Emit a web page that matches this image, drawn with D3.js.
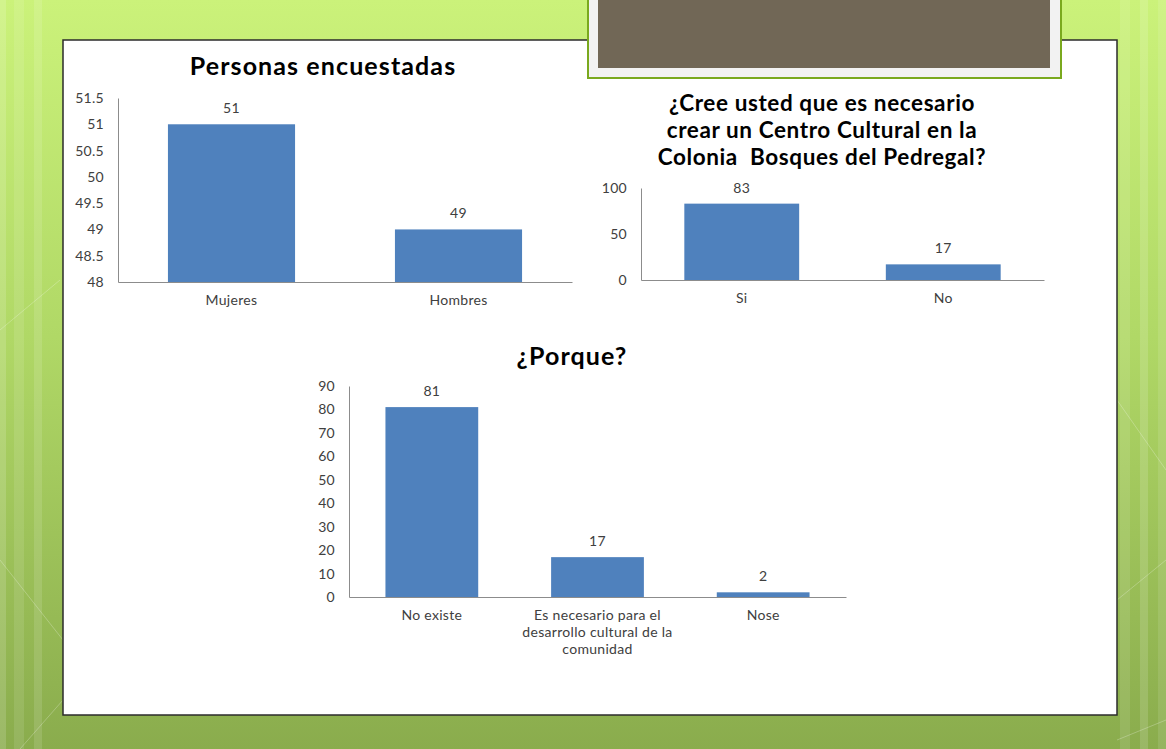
<!DOCTYPE html>
<html>
<head>
<meta charset="utf-8">
<script src="https://cdn.jsdelivr.net/npm/d3@7"></script>
<style>
body { margin:0; background:#fff; }
svg { display:block; }
.axis path, .axis line { stroke:#8c8c8c; }
.axis text { font-family:Lato, sans-serif; font-size:14px; letter-spacing:0.3px; fill:#404040; }
</style>
</head>
<body>
<script>
// chart data
var sexCategories = ['Mujeres', 'Hombres']
var sexValues = [51, 49]
var sexTicks = [48, 48.5, 49, 49.5, 50, 50.5, 51, 51.5]

var needCategories = ['Si', 'No']
var needValues = [83, 17]
var needTicks = [0, 50, 100]

var whyCategories = ['No existe', 'Es necesario para el desarrollo cultural de la comunidad', 'Nose']
var whyLines = [['No existe'], ['Es necesario para el', 'desarrollo cultural de la', 'comunidad'], ['Nose']]
var whyValues = [81, 17, 2]
var whyTicks = [0, 10, 20, 30, 40, 50, 60, 70, 80, 90]

var width = 1166
var height = 749
var barColor = '#4f81bd'

var svg = d3.select('body').append('svg')
    .attr('width', width)
    .attr('height', height)

// background gradient
var defs = svg.append('defs')
var grad = defs.append('linearGradient')
    .attr('id', 'bg')
    .attr('x1', 0).attr('y1', 0).attr('x2', 0).attr('y2', 1)
grad.append('stop').attr('offset', '0%').attr('stop-color', '#cbf27a')
grad.append('stop').attr('offset', '45%').attr('stop-color', '#b0d866')
grad.append('stop').attr('offset', '100%').attr('stop-color', '#8aac4d')

svg.append('rect')
    .attr('width', width)
    .attr('height', height)
    .attr('fill', 'url(#bg)')

// faint vertical stripes on the edges
var stripes = [[0, 6, 0.15], [14, 10, 0.1], [34, 8, 0.12], [1120, 10, 0.1], [1140, 8, 0.14], [1158, 8, 0.1]]
svg.selectAll('.stripe').data(stripes).enter().append('rect')
    .attr('x', function(d){ return d[0] })
    .attr('width', function(d){ return d[1] })
    .attr('y', 0)
    .attr('height', height)
    .attr('fill', '#fff')
    .attr('opacity', function(d){ return d[2] })

// faint diagonal lines
var diag = [[0, 330, 60, 280], [0, 560, 63, 640], [20, 749, 63, 700], [1117, 600, 1166, 560], [1117, 740, 1166, 720], [1117, 400, 1166, 470]]
svg.selectAll('.diag').data(diag).enter().append('line')
    .attr('x1', function(d){ return d[0] }).attr('y1', function(d){ return d[1] })
    .attr('x2', function(d){ return d[2] }).attr('y2', function(d){ return d[3] })
    .attr('stroke', '#fff').attr('stroke-opacity', 0.25)

// white panel
svg.append('rect')
    .attr('x', 63).attr('y', 40)
    .attr('width', 1054).attr('height', 675)
    .attr('fill', '#fff')
    .attr('stroke', '#2b2b2b')
    .attr('stroke-width', 1.5)

// title box at the top
svg.append('rect')
    .attr('x', 588).attr('y', -5)
    .attr('width', 473).attr('height', 83)
    .attr('fill', '#f2f2f2')
    .attr('stroke', '#7aa91e')
    .attr('stroke-width', 2)
svg.append('rect')
    .attr('x', 598).attr('y', 0)
    .attr('width', 452).attr('height', 68)
    .attr('fill', '#716756')

function drawChart(opt){
    var g = svg.append('g')
    var x = d3.scaleBand()
        .domain(opt.categories)
        .range([opt.left, opt.right])
        .paddingInner(opt.pad)
        .paddingOuter(opt.pad / 2)
    var y = d3.scaleLinear()
        .domain(opt.domain)
        .range([opt.bottom, opt.top])

    g.append('g')
        .attr('class', 'axis')
        .attr('transform', 'translate(' + opt.left + ',0)')
        .call(d3.axisLeft(y).tickValues(opt.ticks).tickSize(0).tickPadding(14).tickFormat(function(d){ return d }))
    g.append('g')
        .attr('class', 'axis')
        .attr('transform', 'translate(0,' + opt.bottom + ')')
        .call(d3.axisBottom(x).tickSize(0).tickSizeOuter(0).tickFormat(''))

    g.selectAll('.bar').data(opt.values).enter().append('rect')
        .attr('x', function(d, i){ return x(opt.categories[i]) })
        .attr('y', function(d){ return y(d) })
        .attr('width', x.bandwidth())
        .attr('height', function(d){ return opt.bottom - y(d) })
        .attr('fill', barColor)

    g.selectAll('.val').data(opt.values).enter().append('text')
        .attr('x', function(d, i){ return x(opt.categories[i]) + x.bandwidth() / 2 })
        .attr('y', function(d){ return y(d) - 11 })
        .attr('text-anchor', 'middle')
        .style('font-family', 'Lato, sans-serif')
        .style('font-size', '14px')
        .style('letter-spacing', '0.3px')
        .attr('fill', '#404040')
        .text(function(d){ return d })

    // category labels, possibly wrapped
    opt.lines.forEach(function(lines, i){
        var t = g.append('text')
            .attr('text-anchor', 'middle')
            .style('font-family', 'Lato, sans-serif')
            .style('font-size', '14px')
            .style('letter-spacing', '0.3px')
            .attr('fill', '#404040')
        lines.forEach(function(line, j){
            t.append('tspan')
                .attr('x', x(opt.categories[i]) + x.bandwidth() / 2)
                .attr('y', opt.bottom + 23 + j * 17)
                .text(line)
        })
    })

    var title = g.append('text')
        .attr('text-anchor', 'middle')
        .style('font-family', 'Lato, sans-serif')
        .style('font-weight', 'bold')
        .style('font-size', opt.titleSize + 'px')
        .style('letter-spacing', opt.spacing + 'px')
        .style('white-space', 'pre')
        .attr('fill', '#000')
    opt.title.forEach(function(line, j){
        title.append('tspan')
            .attr('x', opt.titleX)
            .attr('y', opt.titleY + j * 27)
            .text(line)
    })
}

drawChart({
    categories: sexCategories, lines: sexCategories.map(function(c){ return [c] }),
    values: sexValues, ticks: sexTicks, domain: [48, 51.5],
    left: 118, right: 572, top: 98, bottom: 282, pad: 0.44,
    title: ['Personas encuestadas'], titleX: 323, titleY: 75, titleSize: 25, spacing: 1.1
})

drawChart({
    categories: needCategories, lines: needCategories.map(function(c){ return [c] }),
    values: needValues, ticks: needTicks, domain: [0, 100],
    left: 641, right: 1044, top: 188, bottom: 280, pad: 0.43,
    title: ['¿Cree usted que es necesario', 'crear un Centro Cultural en la', 'Colonia  Bosques del Pedregal?'],
    titleX: 822, titleY: 111, titleSize: 22.5, spacing: 0.6
})

drawChart({
    categories: whyCategories, lines: whyLines,
    values: whyValues, ticks: whyTicks, domain: [0, 90],
    left: 349, right: 846, top: 386, bottom: 597, pad: 0.44,
    title: ['¿Porque?'], titleX: 572, titleY: 365, titleSize: 25, spacing: 1.1
})
</script>
</body>
</html>
